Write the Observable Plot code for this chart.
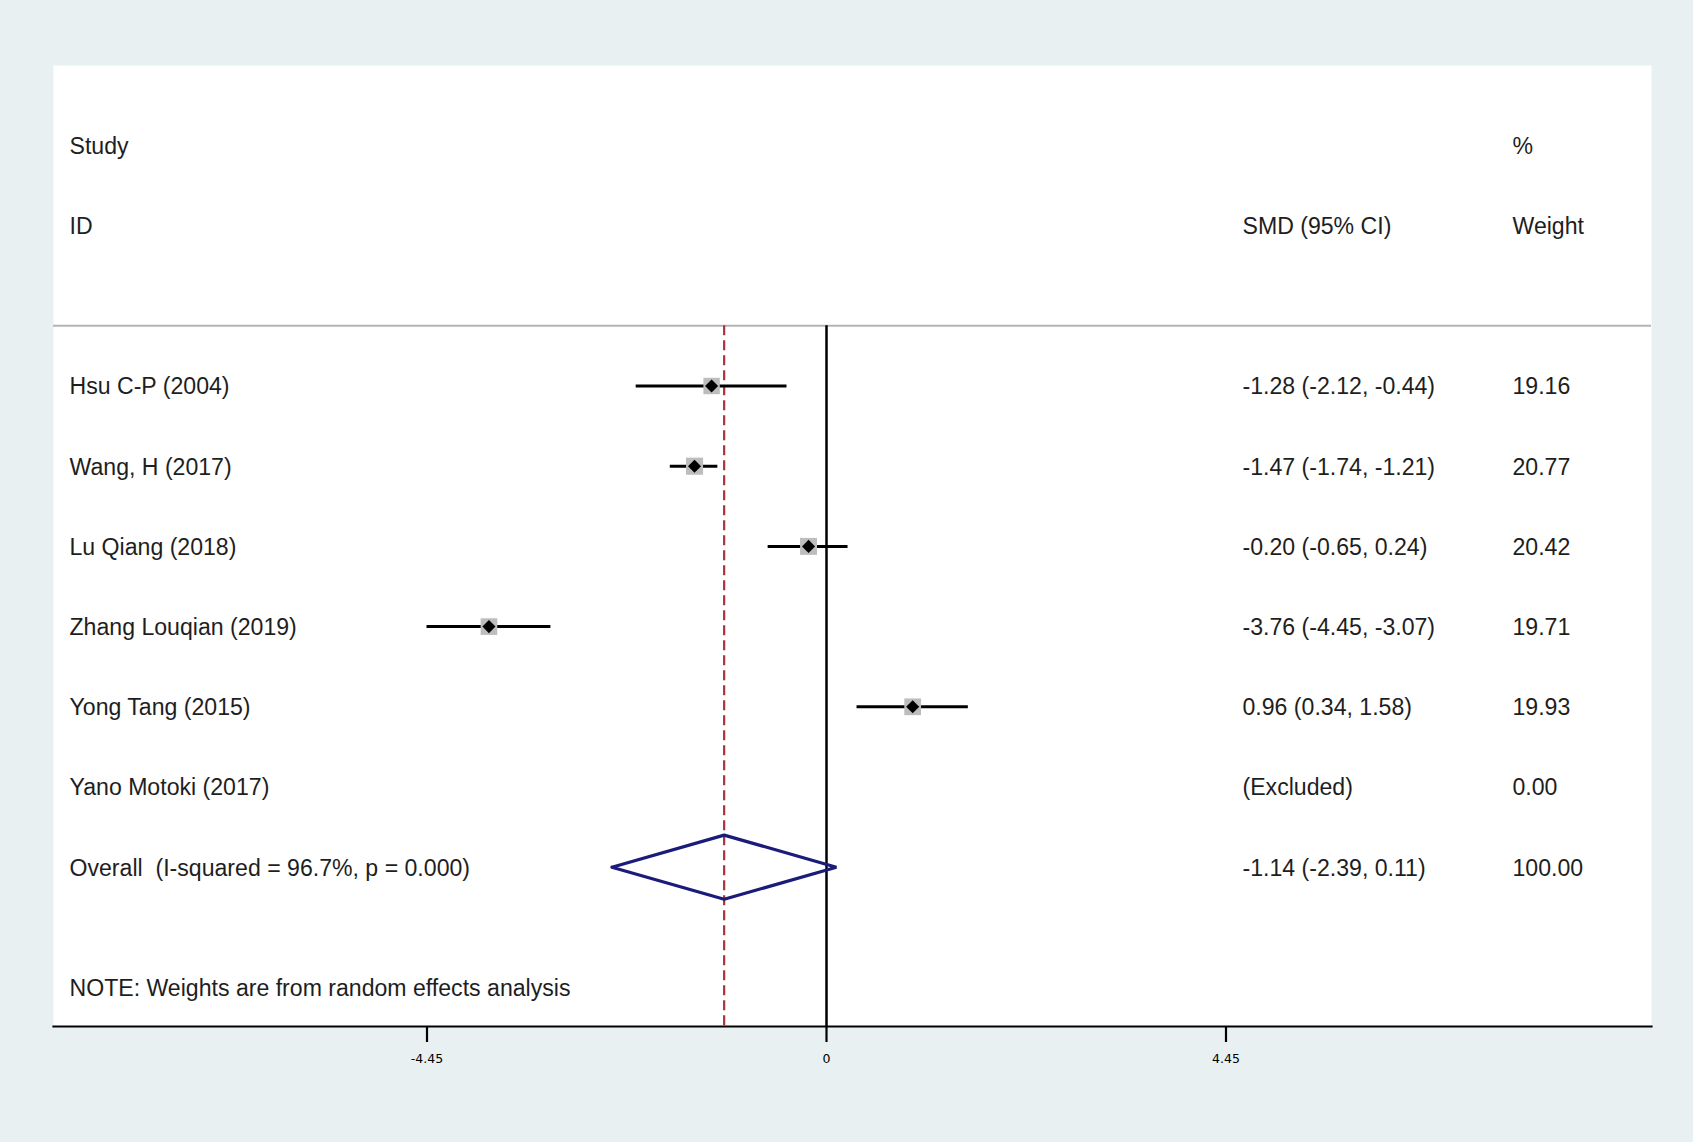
<!DOCTYPE html>
<html>
<head>
<meta charset="utf-8">
<script src="https://cdn.jsdelivr.net/npm/d3@7"></script>
<script src="https://cdn.jsdelivr.net/npm/@observablehq/plot@0.6"></script>
<style>
  html, body { margin: 0; padding: 0; background: #e8f0f2; }
  #chart svg { display: block; }
</style>
</head>
<body>
<div id="chart"></div>
<script>
// ---- data ----
const studies = ["Hsu C-P (2004)", "Wang, H (2017)", "Lu Qiang (2018)", "Zhang Louqian (2019)", "Yong Tang (2015)", "Yano Motoki (2017)"];
const smd     = [-1.28, -1.47, -0.20, -3.76, 0.96, null];
const lower   = [-2.12, -1.74, -0.65, -4.45, 0.34, null];
const upper   = [-0.44, -1.21,  0.24, -3.07, 1.58, null];
const weights = [19.16, 20.77, 20.42, 19.71, 19.93, 0.00];

const overallLabel = "Overall\u00a0 (I-squared = 96.7%, p = 0.000)";
const overallSmd = -1.14, overallLower = -2.39, overallUpper = 0.11, overallWeight = 100.00;

const headerTop = ["Study", "%"];
const headerBottom = ["ID", "SMD (95% CI)", "Weight"];
const note = "NOTE: Weights are from random effects analysis";

const tickValues = [-4.45, 0, 4.45];
const tickLabels = ["-4.45", "0", "4.45"];

// ---- tables ----
const rows = studies.map((s, i) => ({
  i, study: s, smd: smd[i], lo: lower[i], hi: upper[i], w: weights[i],
  ci: smd[i] == null ? "(Excluded)" : `${smd[i].toFixed(2)} (${lower[i].toFixed(2)}, ${upper[i].toFixed(2)})`,
  wt: weights[i].toFixed(2)
}));
const est = rows.filter(d => d.smd != null);
const oi = studies.length;
const overallRow = {i: oi, study: overallLabel,
  ci: `${overallSmd.toFixed(2)} (${overallLower.toFixed(2)}, ${overallUpper.toFixed(2)})`,
  wt: overallWeight.toFixed(2)};
const tableRows = [...rows, overallRow];
const halfH = 0.4;
const diamond = [
  {x: overallLower, y: oi}, {x: overallSmd, y: oi - halfH},
  {x: overallUpper, y: oi}, {x: overallSmd, y: oi + halfH},
  {x: overallLower, y: oi}
];

const textColor = "#1e1e1e";
const fs = 23.1;
const tdy = 1;

const chart = Plot.plot({
  width: 1693,
  height: 1142,
  marginLeft: 53,
  marginRight: 42,
  marginTop: 65,
  marginBottom: 116,
  style: {background: "#e8f0f2", fontFamily: "'Liberation Sans', Arial, sans-serif", color: textColor},
  x: {domain: [-4.45, 4.45], range: [426.5, 1225.5]},
  y: {domain: [-4, 8], range: [64.7, 1027.1], axis: null},
  r: {type: "identity"},
  marks: [
    Plot.frame({fill: "white", stroke: "none"}),
    Plot.ruleY([-0.75], {stroke: "#b4b4b4", strokeWidth: 2}),
    Plot.ruleX([0], {y1: -0.75, y2: 8, stroke: "black", strokeWidth: 2.5}),
    Plot.ruleX([overallSmd], {y1: -0.75, y2: 8, stroke: "#a8343f", strokeWidth: 2.2, strokeDasharray: "10,5"}),
    Plot.ruleY(est, {y: "i", x1: "lo", x2: "hi", stroke: "black", strokeWidth: 3}),
    Plot.dot(est, {x: "smd", y: "i", symbol: "square", r: d => 3.75 * Math.sqrt(d.w) / Math.sqrt(Math.PI), fill: "#bdbdbd", stroke: "none"}),
    Plot.dot(est, {x: "smd", y: "i", symbol: "diamond2", r: 5.9, fill: "black", stroke: "none"}),
    Plot.line(diamond, {x: "x", y: "y", stroke: "#1b1b7a", strokeWidth: 3.2, curve: "linear", strokeLinejoin: "miter"}),
    // header
    Plot.text([headerTop[0]], {y: -3, text: d => d, frameAnchor: "left", dx: 16, dy: tdy, textAnchor: "start", fontSize: fs, fill: textColor}),
    Plot.text([headerTop[1]], {y: -3, text: d => d, frameAnchor: "left", dx: 1459, dy: tdy, textAnchor: "start", fontSize: fs, fill: textColor}),
    Plot.text([headerBottom[0]], {y: -2, text: d => d, frameAnchor: "left", dx: 16, dy: tdy, textAnchor: "start", fontSize: fs, fill: textColor}),
    Plot.text([headerBottom[1]], {y: -2, text: d => d, frameAnchor: "left", dx: 1189, dy: tdy, textAnchor: "start", fontSize: fs, fill: textColor}),
    Plot.text([headerBottom[2]], {y: -2, text: d => d, frameAnchor: "left", dx: 1459, dy: tdy, textAnchor: "start", fontSize: fs, fill: textColor}),
    // table columns
    Plot.text(tableRows, {y: "i", text: "study", frameAnchor: "left", dx: 16, dy: tdy, textAnchor: "start", fontSize: fs, fill: textColor}),
    Plot.text(tableRows, {y: "i", text: "ci", frameAnchor: "left", dx: 1189, dy: tdy, textAnchor: "start", fontSize: fs, fill: textColor}),
    Plot.text(tableRows, {y: "i", text: "wt", frameAnchor: "left", dx: 1459, dy: tdy, textAnchor: "start", fontSize: fs, fill: textColor}),
    Plot.text([note], {y: 7.5, text: d => d, frameAnchor: "left", dx: 16, dy: tdy, textAnchor: "start", fontSize: fs, fill: textColor}),
    // axis
    Plot.frame({anchor: "bottom", stroke: "black", strokeWidth: 2.2}),
    Plot.axisX({ticks: tickValues, tickFormat: (d, i) => tickLabels[tickValues.indexOf(d)], tickSize: 16, tickPadding: 12,
      strokeWidth: 2.2, stroke: "black", fontSize: 12.5, fontFamily: "'DejaVu Sans', sans-serif", fill: "black", label: null})
  ]
});
document.getElementById("chart").appendChild(chart);
</script>
</body>
</html>
